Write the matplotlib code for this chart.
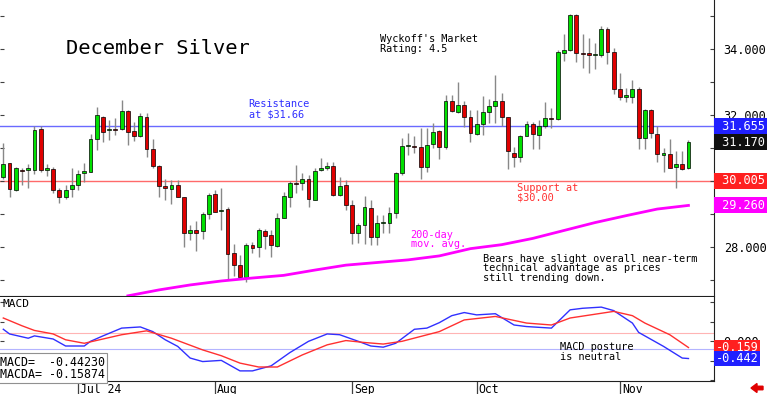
import matplotlib
matplotlib.use("Agg")
import matplotlib.pyplot as plt
import matplotlib.transforms as mtransforms
from matplotlib.patches import FancyArrow
import pandas as pd

plt.rcParams['font.family'] = ['DejaVu Sans Mono']

# daily OHLC, December silver futures
opens = [30.13, 30.55, 29.73, 30.33, 30.32, 30.33, 31.57, 30.33, 30.36, 29.73,
         29.51, 29.75, 29.88, 30.23, 30.28, 31.26, 31.93, 31.54, 31.55, 31.57,
         32.13, 31.53, 31.36, 31.95, 30.96, 30.45, 29.85, 29.75, 29.88, 29.51,
         28.43, 28.52, 28.47, 28.99, 29.61, 29.09, 29.16, 27.81, 27.46, 27.10,
         28.06, 28.01, 28.48, 28.35, 28.03, 28.87, 29.53, 29.94, 29.93, 30.05,
         29.42, 30.33, 30.38, 30.45, 29.58, 29.87, 29.27, 28.41, 28.67, 29.17,
         28.31, 28.72, 28.74, 29.04, 30.23, 31.05, 31.07, 31.02, 30.43, 31.12,
         31.53, 31.02, 32.43, 32.10, 32.30, 31.93, 31.42, 31.73, 32.10, 32.28,
         32.43, 31.93, 30.86, 30.72, 31.36, 31.73, 31.39, 31.68, 31.90, 31.87,
         33.89, 33.97, 35.03, 33.86, 33.85, 33.81, 33.82, 34.61, 33.92, 32.79,
         32.56, 32.56, 32.79, 31.29, 32.15, 31.41, 30.79, 30.82, 30.43, 30.53,
         30.38]
highs = [31.14, 30.55, 30.41, 30.38, 30.52, 31.68, 31.68, 30.52, 30.41, 29.78,
         29.88, 30.38, 30.33, 30.54, 31.42, 32.25, 31.97, 31.85, 31.90, 32.45,
         32.15, 31.78, 32.07, 32.07, 31.26, 30.49, 30.05, 30.03, 30.03, 29.53,
         28.67, 28.79, 29.07, 29.65, 29.73, 29.78, 29.22, 28.09, 27.76, 28.13,
         28.16, 28.57, 28.54, 28.52, 29.02, 29.68, 30.01, 30.48, 30.23, 30.18,
         30.38, 30.69, 30.59, 30.59, 30.11, 30.03, 29.42, 28.74, 29.55, 29.42,
         28.97, 28.97, 29.22, 30.28, 31.29, 31.45, 31.36, 31.60, 31.60, 31.75,
         31.55, 32.61, 32.61, 33.01, 32.43, 32.15, 32.15, 32.58, 32.47, 33.21,
         32.66, 31.95, 31.02, 31.39, 31.83, 31.80, 31.85, 32.38, 32.22, 33.97,
         34.44, 35.05, 35.05, 34.44, 34.32, 34.17, 34.71, 34.68, 34.04, 33.26,
         32.83, 33.06, 32.86, 32.18, 32.18, 31.68, 30.99, 31.27, 30.91, 30.91,
         31.24]
lows = [30.05, 29.50, 29.71, 29.88, 29.78, 30.21, 30.28, 30.15, 29.65, 29.34,
        29.44, 29.50, 29.73, 29.98, 30.26, 30.94, 31.19, 31.24, 31.39, 31.55,
        31.09, 31.22, 31.34, 30.74, 30.40, 29.53, 29.42, 29.30, 29.53, 28.01,
        28.21, 27.89, 28.23, 28.84, 29.07, 28.52, 27.02, 27.12, 27.10, 26.95,
        27.81, 27.71, 27.93, 27.69, 28.01, 28.87, 29.22, 29.65, 29.73, 29.22,
        29.42, 30.31, 30.33, 29.55, 29.55, 29.12, 28.09, 28.13, 28.09, 28.06,
        28.06, 28.41, 28.41, 28.87, 30.18, 30.79, 30.84, 30.05, 30.28, 30.99,
        30.68, 30.96, 32.10, 32.05, 31.65, 31.19, 31.39, 31.39, 31.75, 31.75,
        31.67, 30.35, 30.43, 30.59, 31.36, 30.97, 30.97, 31.62, 31.62, 31.85,
        33.64, 33.95, 33.60, 33.41, 33.26, 33.39, 33.77, 33.54, 32.63, 32.45,
        32.40, 32.35, 30.97, 30.97, 31.31, 30.59, 30.28, 30.38, 29.78, 30.33,
        30.36]
closes = [30.51, 29.77, 30.38, 30.29, 30.40, 31.55, 30.33, 30.40, 29.73, 29.53,
          29.73, 29.88, 30.21, 30.29, 31.26, 32.00, 31.47, 31.55, 31.54, 32.13,
          31.50, 31.37, 31.97, 30.97, 30.46, 29.85, 29.80, 29.87, 29.53, 28.43,
          28.52, 28.43, 28.99, 29.58, 29.07, 29.11, 27.79, 27.46, 27.10, 28.06,
          27.96, 28.50, 28.34, 28.05, 28.87, 29.55, 29.95, 29.91, 30.07, 29.44,
          30.31, 30.39, 30.45, 29.58, 29.85, 29.27, 28.43, 28.67, 29.20, 28.31,
          28.74, 28.75, 29.02, 30.23, 31.07, 31.07, 31.04, 30.43, 31.09, 31.50,
          31.02, 32.42, 32.13, 32.30, 31.93, 31.45, 31.73, 32.10, 32.28, 32.43,
          31.93, 30.92, 30.74, 31.36, 31.73, 31.41, 31.68, 31.90, 31.87, 33.90,
          33.97, 35.03, 33.87, 33.84, 33.83, 33.83, 34.61, 33.92, 32.79, 32.56,
          32.59, 32.79, 31.29, 32.15, 31.44, 30.81, 30.84, 30.40, 30.53, 30.35,
          31.17]

dates = pd.bdate_range('2024-06-12', periods=len(closes), freq='C',
                       holidays=['2024-06-19', '2024-07-04', '2024-09-02'])

# 200-day moving average (read at sparse days)
ma_x = [20, 25, 30, 35, 40, 45, 50, 55, 60, 65, 70, 75, 80, 85, 90, 95, 100, 105, 110]
ma_v = [26.52, 26.70, 26.85, 26.97, 27.06, 27.14, 27.30, 27.45, 27.53, 27.61,
        27.73, 27.95, 28.07, 28.26, 28.50, 28.74, 28.95, 29.15, 29.26]

# MACD and its average
macd_x = [0, 1, 4, 5, 8, 10, 13, 14, 16, 19, 22, 24, 26, 28, 30, 32, 35, 38, 40, 43,
          46, 49, 52, 54, 57, 59, 61, 63, 66, 68, 70, 72, 74, 76, 79, 82, 84, 88,
          91, 93, 96, 98, 101, 102, 106, 109, 110]
macd_v = [0.31, 0.19, 0.08, 0.14, 0.06, -0.12, -0.12, 0.00, 0.14, 0.34, 0.37, 0.25,
          0.04, -0.13, -0.43, -0.52, -0.49, -0.76, -0.76, -0.63, -0.29, 0.00, 0.19,
          0.17, 0.00, -0.12, -0.15, -0.05, 0.31, 0.34, 0.48, 0.66, 0.74, 0.68, 0.71,
          0.42, 0.38, 0.34, 0.81, 0.85, 0.88, 0.79, 0.47, 0.23, -0.13, -0.43, -0.442]
macda_x = [0, 3, 5, 8, 10, 13, 16, 19, 23, 27, 32, 35, 38, 41, 44, 48, 52, 55, 58,
           61, 64, 70, 74, 79, 84, 88, 91, 98, 101, 103, 107, 110]
macda_v = [0.60, 0.40, 0.28, 0.19, 0.04, -0.05, 0.06, 0.17, 0.27, 0.08, -0.22, -0.37,
           -0.56, -0.66, -0.66, -0.35, -0.09, 0.02, -0.03, -0.07, 0.00, 0.25, 0.55,
           0.64, 0.47, 0.42, 0.60, 0.77, 0.66, 0.47, 0.17, -0.159]

resistance = 31.655
support = 30.005
ma_last = 29.26
macd_last = -0.44230
macda_last = -0.15874
macd_bands = [0.21, -0.20]

GREEN = '#00e000'
RED = '#e00000'
BLUE = '#3c3cff'
MAG = '#ff00ff'

fig = plt.figure(figsize=(7.68, 3.94), dpi=100)
W, H = 768.0, 394.0
ax = fig.add_axes([0, 1 - 296 / H, 714 / W, 296 / H])
axm = fig.add_axes([0, 1 - 381 / H, 714 / W, 84 / H])

xs = list(range(len(closes)))
ax.vlines(xs, lows, highs, color='#888888', lw=1.0, zorder=2)
for i in xs:
    o, c = opens[i], closes[i]
    col = GREEN if c >= o else RED
    bot = min(o, c)
    h = max(abs(c - o), 0.035)
    ax.bar(i, h, bottom=bot, width=0.62, color=col, edgecolor='black',
           linewidth=0.5, zorder=3)

ax.plot(ma_x, ma_v, color=MAG, lw=2, zorder=4)
ax.axhline(resistance, color='#6a6aff', lw=1, zorder=1)
ax.axhline(support, color='#ff6a6a', lw=1, zorder=1)

ax.set_xlim(-0.53, 114.1)
ax.set_ylim(26.515, 35.485)
for s in ['top', 'left']:
    ax.spines[s].set_visible(False)
ax.spines['right'].set_color('#202020')
ax.spines['bottom'].set_color('#202020')
ax.set_xticks([])
ax.set_yticks([28, 32, 34])
ax.set_yticklabels(['%.3f' % v for v in [28, 32, 34]])
ax.set_yticks([27, 29, 30, 31, 33, 35], minor=True)
ax.tick_params(axis='y', which='both', left=True, right=True, labelleft=False,
               labelright=True, direction='in', length=3, width=0.8,
               color='#404040', pad=7, labelsize=8.6)

trans = mtransforms.blended_transform_factory(ax.transAxes, ax.transData)
for v, txt, bg in [(resistance, '31.655', '#2020ff'), (closes[-1], '31.170', '#101010'),
                   (support, '30.005', '#ff2020'), (ma_last, '29.260', MAG)]:
    ax.text(1.002, v, ' ' + txt, transform=trans, ha='left', va='center',
            color='white', fontsize=8.6, clip_on=False, zorder=10,
            bbox=dict(boxstyle='square,pad=0.12', facecolor=bg, edgecolor='none'))

# annotations
ax.text(24.8, 34.03, 'December Silver', fontsize=14.7, ha='center', va='center')
ax.text(60.5, 34.45, "Wyckoff's Market\nRating: 4.5", fontsize=7.4, ha='left',
        va='top', linespacing=0.95)
ax.text(39.4, 32.47, 'Resistance\nat $31.66', fontsize=7.4, color='#3030ff',
        ha='left', va='top', linespacing=0.95)
ax.text(82.5, 29.95, 'Support at\n$30.00', fontsize=7.4, color='#ff3030',
        ha='left', va='top', linespacing=0.95)
ax.text(65.4, 28.53, '200-day\nmov. avg.', fontsize=7.4, color=MAG,
        ha='left', va='top', linespacing=0.95)
ax.text(77.0, 27.80, 'Bears have slight overall near-term\n'
        'technical advantage as prices\nstill trending down.', fontsize=7.4,
        ha='left', va='top', linespacing=0.95)

# MACD panel
axm.plot(macd_x, macd_v, color='#3030ff', lw=1)
axm.plot(macda_x, macda_v, color='#ff3030', lw=1)
axm.axhline(macd_bands[0], color='#ffb4b4', lw=0.8, zorder=0)
axm.axhline(macd_bands[1], color='#b4b4ff', lw=0.8, zorder=0)
axm.set_xlim(-0.53, 114.1)
axm.set_ylim(-1.02, 1.14)
for s in ['top', 'left']:
    axm.spines[s].set_visible(False)
axm.spines['right'].set_color('#202020')
axm.spines['bottom'].set_color('#202020')
axm.set_yticks([0])
axm.set_yticklabels(['0.000'])
axm.set_yticks([-1, -0.5, 0.5, 1], minor=True)
axm.tick_params(axis='y', which='both', left=True, right=True, labelleft=False,
                labelright=True, direction='in', length=3, width=0.8,
                color='#404040', pad=7, labelsize=8.6)

mtrans = mtransforms.blended_transform_factory(axm.transAxes, axm.transData)
for v, txt, bg in [(macda_x and macda_v[-1], '-0.159', '#ff2020'),
                   (macd_v[-1], '-0.442', '#2020ff')]:
    axm.text(1.002, v, txt, transform=mtrans, ha='left', va='center',
             color='white', fontsize=8.6, clip_on=False, zorder=10,
             bbox=dict(boxstyle='square,pad=0.12', facecolor=bg, edgecolor='none'))

axm.text(0.003, 0.98, 'MACD', transform=axm.transAxes, fontsize=8, ha='left', va='top')
axm.text(89.4, -0.02, 'MACD posture\nis neutral', fontsize=7.4, ha='left', va='top',
         linespacing=0.95)
axm.text(0.0, 0.0, 'MACD=  %.5f\nMACDA= %.5f' % (macd_last, macda_last),
         transform=axm.transAxes, fontsize=8.4, ha='left', va='bottom',
         linespacing=0.95, zorder=9,
         bbox=dict(boxstyle='square,pad=0.2', facecolor='white', edgecolor='#909090', lw=0.8))

# month ticks
month_idx = [i for i in range(1, len(dates)) if dates[i].month != dates[i - 1].month]
month_lab = [dates[i].strftime('%b') for i in month_idx]
month_lab[0] = dates[month_idx[0]].strftime('%b %y')
axm.set_xticks(month_idx)
axm.set_xticklabels([])
axm.tick_params(axis='x', direction='out', length=9.5, width=0.9, color='#404040')
xtrans = mtransforms.blended_transform_factory(axm.transData, axm.transAxes)
for i, lab in zip(month_idx, month_lab):
    axm.text(i + 0.3, -0.02, lab, transform=xtrans, fontsize=8.3, ha='left',
             va='top', clip_on=False)

fig.patches.append(FancyArrow(763 / W, 1 - 388 / H, -12 / W, 0, width=3.5 / H,
                              head_width=9 / H, head_length=6 / W,
                              length_includes_head=True, color='#e00000',
                              transform=fig.transFigure, figure=fig))

fig.savefig('out.png', dpi=100)
